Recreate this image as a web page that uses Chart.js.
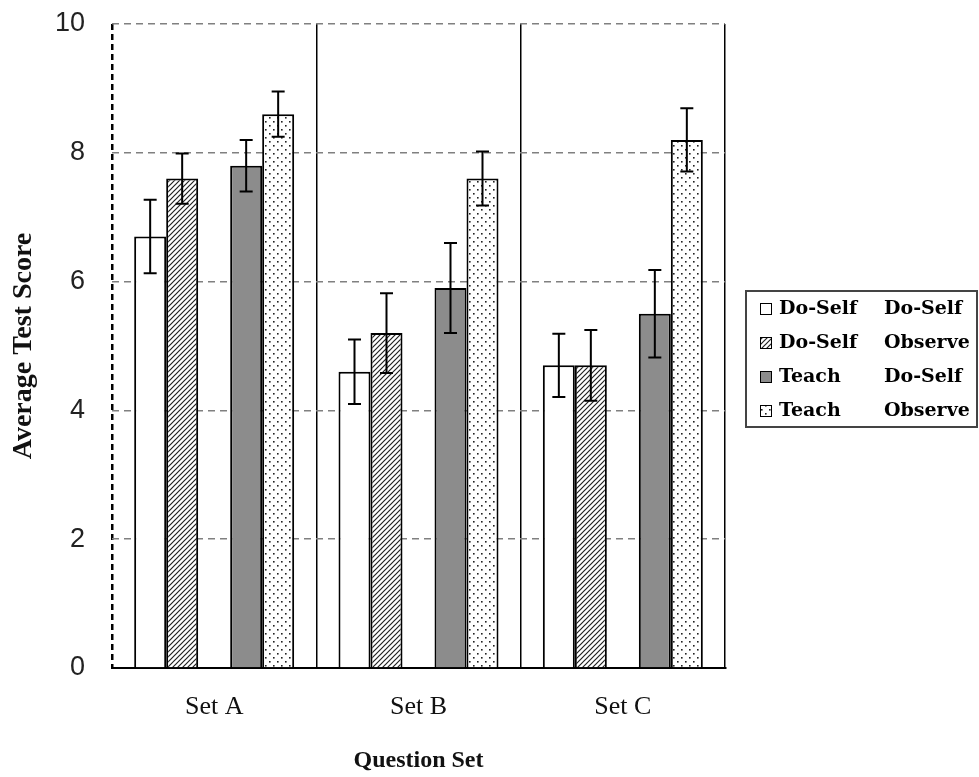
<!DOCTYPE html>
<html lang="en">
<head>
    <meta charset="UTF-8">
    <title>Average Test Score by Question Set</title>
    <script src="https://cdn.jsdelivr.net/npm/chart.js"></script>
    <style>
        html, body { margin: 0; padding: 0; background: #fff; overflow: hidden; }
    </style>
</head>
<body>
    <canvas id="scoreChart" width="979" height="777"></canvas>

    <script>
        // data
        const questionSets = ['Set A', 'Set B', 'Set C'];

        const doSelfDoSelf = [6.7, 4.6, 4.7];
        const doSelfObserve = [7.6, 5.2, 4.7];
        const teachDoSelf = [7.8, 5.9, 5.5];
        const teachObserve = [8.6, 7.6, 8.2];

        // half length of each error bar
        const errDoSelfDoSelf = [0.57, 0.50, 0.49];
        const errDoSelfObserve = [0.39, 0.62, 0.55];
        const errTeachDoSelf = [0.40, 0.70, 0.68];
        const errTeachObserve = [0.35, 0.42, 0.49];

        const legendFirst = ['Do-Self', 'Do-Self', 'Teach', 'Teach'];
        const legendSecond = ['Do-Self', 'Observe', 'Do-Self', 'Observe'];

        const yTicks = [0, 2, 4, 6, 8, 10];

        // fill patterns
        function hatchPattern() {
            const c = document.createElement('canvas');
            c.width = 5; c.height = 5;
            const g = c.getContext('2d');
            g.fillStyle = '#fff';
            g.fillRect(0, 0, 5, 5);
            g.strokeStyle = '#222';
            g.lineWidth = 1.2;
            g.beginPath();
            g.moveTo(-1, 6); g.lineTo(6, -1);
            g.moveTo(-1, 1); g.lineTo(1, -1);
            g.moveTo(4, 6); g.lineTo(6, 4);
            g.stroke();
            return g.createPattern(c, 'repeat');
        }

        function dotPattern() {
            const c = document.createElement('canvas');
            c.width = 8; c.height = 8;
            const g = c.getContext('2d');
            g.fillStyle = '#fff';
            g.fillRect(0, 0, 8, 8);
            g.fillStyle = '#222';
            g.fillRect(1, 1, 1.6, 1.6);
            g.fillRect(5, 5, 1.6, 1.6);
            return g.createPattern(c, 'repeat');
        }

        const errorBars = {
            id: 'errorBars',
            afterDatasetsDraw(chart) {
                const { ctx, scales: { y } } = chart;
                ctx.save();
                ctx.strokeStyle = '#000';
                ctx.lineWidth = 2;
                chart.data.datasets.forEach((ds, i) => {
                    if (!ds.errors) return;
                    const meta = chart.getDatasetMeta(i);
                    meta.data.forEach((bar, j) => {
                        const v = ds.data[j];
                        const top = y.getPixelForValue(v + ds.errors[j]);
                        const bot = y.getPixelForValue(v - ds.errors[j]);
                        const x = bar.x;
                        ctx.beginPath();
                        ctx.moveTo(x, top); ctx.lineTo(x, bot);
                        ctx.moveTo(x - 6.5, top); ctx.lineTo(x + 6.5, top);
                        ctx.moveTo(x - 6.5, bot); ctx.lineTo(x + 6.5, bot);
                        ctx.stroke();
                    });
                });
                ctx.restore();
            }
        };

        // two column legend box on the right
        const sideLegend = {
            id: 'sideLegend',
            afterDraw(chart) {
                const ctx = chart.ctx;
                const boxX = 746, boxY = 291, boxW = 231, boxH = 136;
                ctx.save();
                ctx.fillStyle = '#fff';
                ctx.fillRect(boxX, boxY, boxW, boxH);
                ctx.strokeStyle = '#444';
                ctx.lineWidth = 2;
                ctx.strokeRect(boxX, boxY, boxW, boxH);

                const real = chart.data.datasets.filter(ds => ds.errors);
                ctx.font = 'bold 19px "DejaVu Serif"';
                ctx.textBaseline = 'middle';
                real.forEach((ds, k) => {
                    const cy = 309 + k * 34;
                    ctx.fillStyle = ds.backgroundColor;
                    ctx.fillRect(760, cy - 5, 11, 11);
                    ctx.strokeStyle = '#000';
                    ctx.lineWidth = 1;
                    ctx.strokeRect(760.5, cy - 5.5, 11, 11);
                    ctx.fillStyle = '#000';
                    ctx.fillText(legendFirst[k], 779, cy);
                    ctx.fillText(legendSecond[k], 884, cy);
                });
                ctx.restore();
            }
        };

        const ctx = document.getElementById('scoreChart').getContext('2d');

        new Chart(ctx, {
            type: 'bar',
            data: {
                labels: questionSets,
                datasets: [
                    { label: 'Do-Self Do-Self', data: doSelfDoSelf, errors: errDoSelfDoSelf, backgroundColor: '#fff' },
                    { label: 'Do-Self Observe', data: doSelfObserve, errors: errDoSelfObserve, backgroundColor: hatchPattern() },
                    { label: '', data: [null, null, null], backgroundColor: 'transparent', borderWidth: 0 },
                    { label: 'Teach Do-Self', data: teachDoSelf, errors: errTeachDoSelf, backgroundColor: '#8c8c8c' },
                    { label: 'Teach Observe', data: teachObserve, errors: errTeachObserve, backgroundColor: dotPattern() }
                ]
            },
            options: {
                responsive: false,
                animation: false,
                devicePixelRatio: 1,
                layout: { padding: { top: 24, right: 254, bottom: 0, left: 0 } },
                datasets: {
                    bar: {
                        borderColor: '#000',
                        borderWidth: 2,
                        categoryPercentage: 0.783,
                        barPercentage: 1.0
                    }
                },
                plugins: {
                    legend: { display: false },
                    tooltip: { enabled: false }
                },
                scales: {
                    x: {
                        afterFit: s => { s.height = 109; },
                        grid: {
                            offset: true,
                            drawTicks: false,
                            color: c => c.index === 3 ? '#9a9a9a' : '#000',
                            lineWidth: c => c.index === 0 ? 2.5 : 1.5
                        },
                        border: {
                            display: true,
                            color: '#000',
                            width: 2,
                            dash: c => c.index === 0 ? [6, 4] : []
                        },
                        ticks: {
                            padding: 24,
                            color: '#111',
                            font: { family: '"Liberation Serif"', size: 26 }
                        },
                        title: {
                            display: true,
                            text: 'Question Set',
                            color: '#111',
                            padding: { top: 0, bottom: 2 },
                            font: { family: '"Liberation Serif"', size: 24, weight: 'bold' }
                        }
                    },
                    y: {
                        min: 0,
                        max: 10,
                        afterFit: s => { s.width = 112; s.paddingTop = 0; s.paddingBottom = 0; },
                        afterBuildTicks: s => { s.ticks = yTicks.map(v => ({ value: v })); },
                        grid: {
                            drawTicks: false,
                            color: c => c.index === 0 ? 'transparent' : '#808080',
                            lineWidth: 1.5
                        },
                        border: { display: false, dash: [7, 5] },
                        ticks: {
                            padding: 27,
                            color: '#222',
                            font: { family: '"Liberation Sans"', size: 27 }
                        },
                        title: {
                            display: true,
                            text: 'Average Test Score',
                            color: '#111',
                            padding: { top: 7, bottom: 0 },
                            font: { family: '"Liberation Serif"', size: 28, weight: 'bold' }
                        }
                    }
                }
            },
            plugins: [errorBars, sideLegend]
        });
    </script>
</body>
</html>
